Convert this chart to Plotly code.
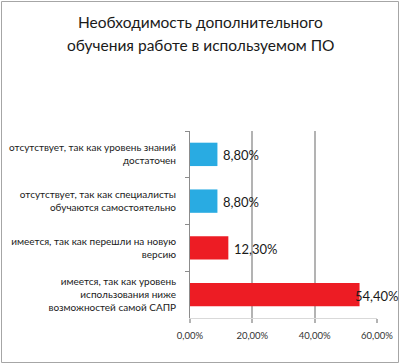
import plotly.graph_objects as go

title_lines = ["Необходимость дополнительного", "обучения работе в используемом ПО"]
categories = [
    "отсутствует, так как уровень знаний<br>достаточен",
    "отсутствует, так как специалисты<br>обучаются самостоятельно",
    "имеется, так как перешли на новую<br>версию",
    "имеется, так как уровень<br>использования ниже<br>возможностей самой САПР",
]
values = [0.088, 0.088, 0.123, 0.544]
value_labels = ["8,80%", "8,80%", "12,30%", "54,40%"]
colors = ["#29ABE2", "#29ABE2", "#ED1C24", "#ED1C24"]
tick_vals = [0, 0.2, 0.4, 0.6]

W, H = 400, 364
L, R, T, B = 190, 23, 131, 46
FONT = "Lato, sans-serif"
pw, ph = W - L - R, H - T - B
AXIS_GRAY = "#b3b3b3"

fig = go.Figure(go.Bar(
    x=values, y=categories, orientation="h",
    marker=dict(color=colors, line=dict(width=0)),
    width=0.5,
))

for i, (v, lab) in enumerate(zip(values, value_labels)):
    last = v > 0.5
    fig.add_annotation(
        x=v, y=categories[i], text=lab, showarrow=False,
        xanchor="left", xshift=(-7 if last else 4), yshift=-1,
        font=dict(size=13, color="#1a1a1a", family=FONT),
    )

for line, ypix in zip(title_lines, [22, 45]):
    fig.add_annotation(
        xref="paper", yref="paper",
        x=(200 - L) / pw, y=(H - B - ypix) / ph,
        text=line, showarrow=False, xanchor="center", yanchor="middle",
        font=dict(size=15.5, color="#1a1a1a", family=FONT),
    )

fig.add_shape(
    type="rect", xref="paper", yref="paper",
    x0=(1.5 - L) / pw, x1=(W - 1.5 - L) / pw,
    y0=-(B - 1.5) / ph,
    y1=1 + (T - 1.5) / ph,
    line=dict(color="#a6a6a6", width=1),
)

fig.update_layout(
    width=W, height=H,
    margin=dict(l=L, r=R, t=T, b=B, autoexpand=False),
    paper_bgcolor="white", plot_bgcolor="white",
    separators=", ",
    showlegend=False,
    font=dict(family=FONT),
)

fig.update_xaxes(
    range=[0, 0.6], tickvals=tick_vals, tickformat=".2%",
    showgrid=True, gridcolor=AXIS_GRAY, gridwidth=1.5,
    zeroline=False, showline=True, linecolor="#d9d9d9", linewidth=1,
    automargin=False,
    ticks="outside", ticklen=4, tickcolor=AXIS_GRAY, tickwidth=1.5,
    tickfont=dict(size=9.5, color="#333333"),
    ticklabelstandoff=5,
)
fig.update_yaxes(
    autorange="reversed", showline=True, linecolor="#8c8c8c",
    tickson="boundaries", ticks="outside", ticklen=4, tickcolor="#8c8c8c",
    tickfont=dict(size=10, color="#1a1a1a"),
    ticklabelstandoff=11, automargin=False,
)

fig.write_html(
    "out.html",
    config={"displayModeBar": False},
    post_script="document.body.style.margin='0';",
)
